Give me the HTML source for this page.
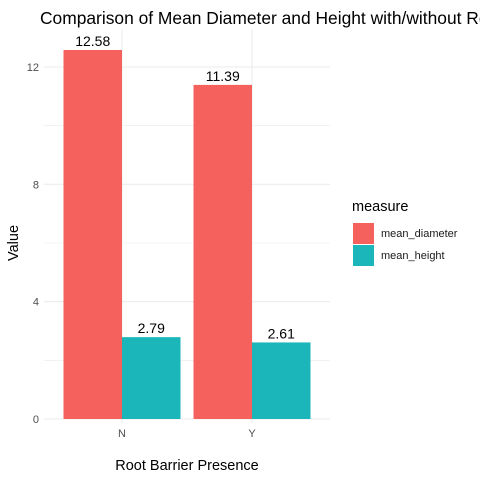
<!DOCTYPE html>
<html><head><meta charset="utf-8"><style>
body{margin:0;background:#fff}
svg{font-family:"Liberation Sans",sans-serif}
</style></head><body>
<svg id="c" width="480" height="480" viewBox="0 0 480 480">
<text x="40" y="24" font-size="17.4" fill="#000">Comparison of Mean Diameter and Height with/without Root Barrier</text>
<g id="grid"></g><g id="bars"></g><g id="labels"></g><g id="axes"></g>
<text x="187" y="470" font-size="14.5" text-anchor="middle">Root Barrier Presence</text>
<text transform="translate(18,243) rotate(-90)" font-size="14.5" text-anchor="middle">Value</text>
<g>
<text x="352" y="211" font-size="14.5">measure</text>
<rect x="353" y="223" width="21" height="21" fill="#F5625E"/>
<text x="381" y="237" font-size="11" fill="#1a1a1a">mean_diameter</text>
<rect x="353" y="245" width="21" height="21" fill="#1BB6BA"/>
<text x="381" y="259" font-size="11" fill="#1a1a1a">mean_height</text>
</g>
</svg>
<script>
const categories=["N","Y"];
const meanDiameter=[12.58,11.39];
const meanHeight=[2.79,2.61];
const yTicks=[0,4,8,12];
const colors=["#F5625E","#1BB6BA"];
const NS="http://www.w3.org/2000/svg";
const L=44,R=330,y0=419,k=352/12;
const y=v=>y0-v*k;
const xc=i=>122+i*130;
function mk(t,a,p){const e=document.createElementNS(NS,t);for(const n in a)e.setAttribute(n,a[n]);p.appendChild(e);return e;}
const g=document.getElementById('grid'),b=document.getElementById('bars'),lb=document.getElementById('labels'),ax=document.getElementById('axes');
for(let v=0;v<=13;v+=2){const l=mk('line',{x1:L,x2:R,y1:y(v),y2:y(v),stroke:'#ebebeb','stroke-width':v%4==0?1.1:0.55},g);

}
categories.forEach((c,i)=>{const l=mk('line',{x1:xc(i),x2:xc(i),y1:30,y2:y0+4,stroke:'#ebebeb','stroke-width':1.1},g);

});
yTicks.forEach(v=>{const t=mk('text',{x:L-5,y:y(v)+4,'font-size':11,fill:'#4d4d4d','text-anchor':'end'},ax);t.textContent=v;

});
const series=[meanDiameter,meanHeight];
categories.forEach((c,i)=>{
 const t=mk('text',{x:xc(i),y:y0+18,'font-size':11,fill:'#4d4d4d','text-anchor':'middle'},ax);t.textContent=c;
 
 
 series.forEach((s,j)=>{const w=58.5,x=xc(i)-w+j*w;
  const r=mk('rect',{x:x,y:y(s[i]),width:w,height:y0-y(s[i]),fill:colors[j]},b);
  
  
  const tx=mk('text',{x:x+w/2,y:y(s[i])-4,'font-size':14,'text-anchor':'middle'},lb);tx.textContent=s[i].toFixed(2);
  
  });
});
</script>
</body></html>
